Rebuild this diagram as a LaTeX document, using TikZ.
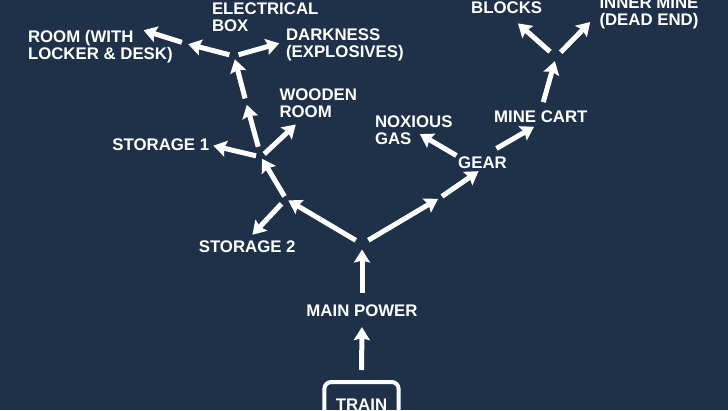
\documentclass[tikz,border=0pt]{standalone}
\usepackage{fontspec}
\setmainfont{Liberation Sans}
\usetikzlibrary{arrows.meta}
\definecolor{bgblue}{RGB}{30,49,72}

\begin{document}
\begin{tikzpicture}[x=1pt,y=1pt,
    lbl/.style={text=white,inner sep=0pt,outer sep=0pt,align=left,
      font=\fontsize{16.8}{17.2}\selectfont\bfseries},
    arr/.style={white,line width=5pt,-{Stealth[length=13pt,width=16pt,inset=2pt]}}]
  \useasboundingbox (0,0) rectangle (728,-410);
  \fill[bgblue] (0,0) rectangle (728,-410);
  % rooms
  \node[lbl,anchor=base west] (room) at (28,-59.5) {ROOM (WITH\\LOCKER \& DESK)};
  \node[lbl,anchor=base west] (ebox) at (212,-31.5) {ELECTRICAL\\BOX};
  \node[lbl,anchor=base west] (dark) at (286,-57.2) {DARKNESS\\(EXPLOSIVES)};
  \node[lbl,anchor=base west] (wood) at (279.5,-117.9) {WOODEN\\ROOM};
  \node[lbl,anchor=base] (st1) at (160.8,-150.5) {STORAGE 1};
  \node[lbl,anchor=base] (st2) at (247.2,-252) {STORAGE 2};
  \node[lbl,anchor=base] (power) at (362,-316.7) {MAIN POWER};
  \node[lbl,anchor=base west] (gas) at (375,-144.9) {NOXIOUS\\GAS};
  \node[lbl,anchor=base] (gear) at (482.5,-168.3) {GEAR};
  \node[lbl,anchor=base] (cart) at (540.8,-122.7) {MINE CART};
  \node[lbl,anchor=base] (blocks) at (506.7,-13.3) {BLOCKS};
  \node[lbl,anchor=base west] (mine) at (599.5,-25.2) {INNER MINE\\(DEAD END)};
  \node[lbl,draw=white,line width=4pt,rounded corners=7pt,minimum width=74.3pt,
    minimum height=44.6pt] (train) at (361.5,-404.3) {TRAIN};
  % forks
  \coordinate (j1) at (362,-244);
  \coordinate (j2) at (286,-199);
  \coordinate (j3) at (261,-157);
  \coordinate (j4) at (234,-56);
  \coordinate (j5) at (556,-57);
  \coordinate (m1) at (246,-102);
  \coordinate (m2) at (185,-43.3);
  \coordinate (m3) at (440,-197.7);
  % paths
  \foreach \a/\b/\s/\e in {train.north/power.south/12/10.3, power.north/j1/11.7/5.5,
      j1/j2/7.2/2.7, j1/m3/7.4/2.3, m3/gear.south/2.4/4.8, j2/st2.north/6.6/7.6,
      j2/j3/3/2.1, j3/st1.east/5.1/4.2, j3/wood/4.4/9.4, j3/m1/10.6/3, m1/j4/3.7/3.4,
      j4/m2/4.8/3.3, m2/room.21/3.3/0.5, j4/dark.177/4.7/7,
      gear.north west/gas.center/2.1/7.1, gear.north/cart.south/16.1/7.8,
      cart.north/j5/9.2/4.3, j5/blocks.south/8/15, j5/mine.west/6.6/13.3}
    \draw[arr,shorten <=\s pt,shorten >=\e pt] (\a) -- (\b);
\end{tikzpicture}
\end{document}
